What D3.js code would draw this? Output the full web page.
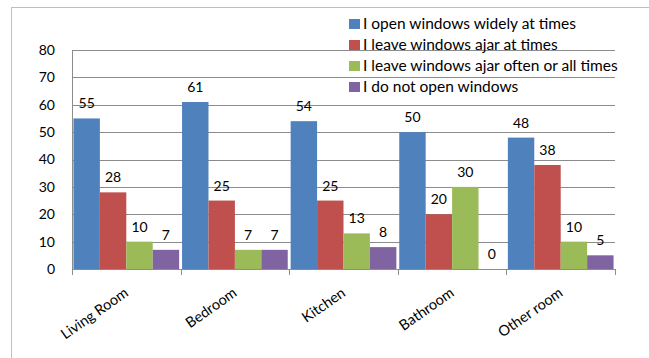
<!DOCTYPE html>
<html>
<head>
<meta charset="utf-8">
<script src="https://cdn.jsdelivr.net/npm/d3@7"></script>
<style>
  html, body { margin: 0; padding: 0; background: #fff; }
  svg text { font-family: Lato, "Open Sans", sans-serif; fill: #000; }
</style>
</head>
<body>
<svg id="chart" width="649" height="358"></svg>
<script>
// Rooms and how often windows are opened in each (percent of respondents)
const rooms = ["Living Room", "Bedroom", "Kitchen", "Bathroom", "Other room"];
const seriesNames = [
  "I open windows widely at times",
  "I leave windows ajar at times",
  "I leave windows ajar often or all times",
  "I do not open windows"
];
const openWidely = [55, 61, 54, 50, 48];
const ajarAtTimes = [28, 25, 25, 20, 38];
const ajarOften = [10, 7, 13, 30, 10];
const neverOpen = [7, 7, 8, 0, 5];
const seriesColors = ["#4F81BD", "#C0504D", "#9BBB59", "#8064A2"];
const yTicks = [0, 10, 20, 30, 40, 50, 60, 70, 80];

const seriesValues = [openWidely, ajarAtTimes, ajarOften, neverOpen];

const svg = d3.select("#chart");

// chart frame
svg.append("rect")
  .attr("x", 11.5).attr("y", 7.5)
  .attr("width", 660).attr("height", 400)
  .attr("fill", "none").attr("stroke", "#bfbfbf");

const plot = { left: 72, right: 615, top: 50, bottom: 269 };

const x0 = d3.scaleBand().domain(rooms).range([plot.left, plot.right]).paddingInner(0).paddingOuter(0);
const inner = d3.scaleBand().domain(d3.range(4))
  .range([0, x0.bandwidth()]).paddingInner(0).paddingOuter(0.055);
const y = d3.scaleLinear().domain([0, 80]).range([plot.bottom, plot.top]);

// horizontal gridlines
svg.append("g")
  .selectAll("line")
  .data(yTicks.filter(t => t > 0))
  .join("line")
  .attr("x1", plot.left).attr("x2", plot.right)
  .attr("y1", d => Math.round(y(d)) + 0.5).attr("y2", d => Math.round(y(d)) + 0.5)
  .attr("stroke", "#8c8c8c").attr("stroke-width", 1);

// y axis labels
const yAxis = d3.axisLeft(y).tickValues(yTicks).tickSize(0).tickPadding(17);
const yg = svg.append("g").attr("transform", `translate(${plot.left},0)`).call(yAxis);
yg.select(".domain").remove();
yg.selectAll("text").style("font-size", "14px");

// bars
const groups = svg.append("g").selectAll("g")
  .data(rooms)
  .join("g")
  .attr("transform", d => `translate(${x0(d)},0)`);

groups.selectAll("rect")
  .data((room, i) => seriesValues.map((vals, s) => ({ s, v: vals[i] })))
  .join("rect")
  .attr("x", d => inner(d.s))
  .attr("width", inner.bandwidth())
  .attr("y", d => y(d.v))
  .attr("height", d => y(0) - y(d.v))
  .attr("fill", d => seriesColors[d.s]);

groups.selectAll("text.val")
  .data((room, i) => seriesValues.map((vals, s) => ({ s, v: vals[i] })))
  .join("text")
  .attr("class", "val")
  .attr("x", d => inner(d.s) + inner.bandwidth() / 2)
  .attr("y", d => y(d.v) - 10)
  .attr("text-anchor", "middle")
  .style("font-size", "14px")
  .text(d => d.v);

// axes lines
svg.append("line")
  .attr("x1", plot.left + 0.5).attr("x2", plot.left + 0.5)
  .attr("y1", plot.top).attr("y2", plot.bottom)
  .attr("stroke", "#8c8c8c");

const xAxis = d3.axisBottom(x0).tickSize(0).tickFormat("");
const xg = svg.append("g").attr("transform", `translate(0,${plot.bottom + 0.5})`).call(xAxis);
xg.select(".domain").attr("stroke", "#8c8c8c").attr("d", `M${plot.left},0H${plot.right}`);
xg.selectAll(".tick").remove();

// category boundary tick marks
svg.append("g").selectAll("line")
  .data(d3.range(rooms.length + 1))
  .join("line")
  .attr("x1", i => Math.round(plot.left + i * x0.bandwidth()) + 0.5)
  .attr("x2", i => Math.round(plot.left + i * x0.bandwidth()) + 0.5)
  .attr("y1", plot.bottom).attr("y2", plot.bottom + 6)
  .attr("stroke", "#8c8c8c");

// rotated category labels
svg.append("g").selectAll("text")
  .data(rooms)
  .join("text")
  .attr("text-anchor", "end")
  .attr("transform", d => `translate(${x0(d) + x0.bandwidth() / 2 + 3},${plot.bottom + 26}) rotate(-35)`)
  .style("font-size", "14.5px")
  .text(d => d);

// legend
const legend = svg.append("g").attr("transform", "translate(349,19)");
const items = legend.selectAll("g")
  .data(seriesNames)
  .join("g")
  .attr("transform", (d, i) => `translate(0,${i * 21})`);
items.append("rect")
  .attr("width", 11).attr("height", 10)
  .attr("fill", (d, i) => seriesColors[i]);
items.append("text")
  .attr("x", 14).attr("y", 10)
  .style("font-size", "15.5px")
  .text(d => d);
</script>
</body>
</html>
